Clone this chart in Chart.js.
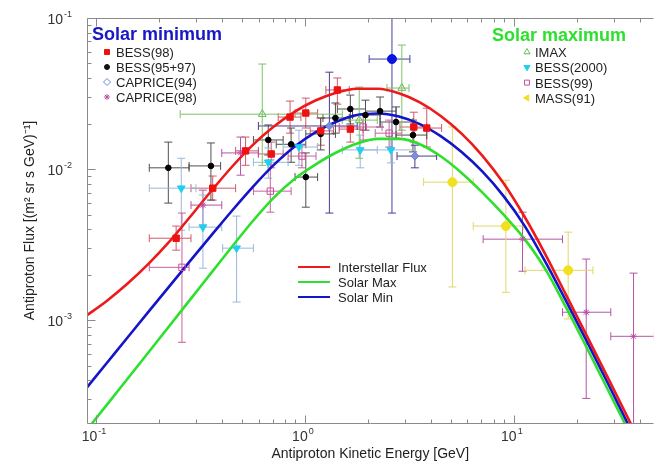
<!DOCTYPE html>
<html>
<head>
<meta charset="utf-8">
<title>Antiproton flux</title>
<script src="https://cdn.jsdelivr.net/npm/chart.js@4.4.1/dist/chart.umd.min.js"></script>
<style>
  html, body { margin: 0; padding: 0; background: #fff; }
  #wrap { width: 659px; height: 469px; position: relative; }
</style>
</head>
<body>
<div id="wrap"><canvas id="fluxChart"></canvas></div>
<script>
// measured points: [E, flux, E low, E high, flux low, flux high]
const bess98 = [
    [0.242, 3.49e-3, 0.180, 0.285, 2.91e-3, 4.20e-3],
    [0.362, 7.48e-3, 0.285, 0.466, 6.24e-3, 9.0e-3],
    [0.520, 1.32e-2, 0.466, 0.599, 1.06e-2, 1.63e-2],
    [0.690, 1.26e-2, 0.599, 0.787, 1.02e-2, 1.51e-2],
    [0.849, 2.21e-2, 0.745, 0.957, 1.73e-2, 2.82e-2],
    [1.01, 2.35e-2, 0.897, 1.15, 1.87e-2, 2.95e-2],
    [1.19, 1.79e-2, 1.06, 1.37, 1.44e-2, 2.18e-2],
    [1.43, 3.34e-2, 1.26, 1.63, 2.69e-2, 4.01e-2],
    [1.65, 1.84e-2, 1.46, 1.90, 1.51e-2, 2.21e-2],
    [3.32, 1.90e-2, 2.85, 3.83, 1.51e-2, 2.38e-2],
    [3.83, 1.87e-2, 3.36, 4.51, 1.40e-2, 2.53e-2]
];
const bess9597 = [
    [0.222, 1.02e-2, 0.180, 0.279, 5.96e-3, 1.51e-2],
    [0.355, 1.05e-2, 0.279, 0.395, 6.24e-3, 1.49e-2],
    [0.668, 1.56e-2, 0.567, 0.787, 1.24e-2, 1.96e-2],
    [0.859, 1.46e-2, 0.729, 1.01, 1.11e-2, 1.87e-2],
    [1.01, 8.86e-3, 0.897, 1.15, 5.60e-3, 1.28e-2],
    [1.19, 1.71e-2, 1.01, 1.40, 1.34e-2, 2.18e-2],
    [1.40, 2.18e-2, 1.22, 1.63, 1.73e-2, 2.74e-2],
    [1.65, 2.50e-2, 1.43, 1.95, 1.99e-2, 3.09e-2],
    [1.95, 2.28e-2, 1.69, 2.29, 1.81e-2, 2.86e-2],
    [2.29, 2.42e-2, 1.95, 2.73, 1.90e-2, 3.00e-2],
    [2.73, 2.05e-2, 2.29, 3.29, 1.60e-2, 2.58e-2],
    [3.29, 1.68e-2, 2.73, 3.83, 1.30e-2, 2.11e-2]
];
const caprice94 = [
    [1.31, 1.93e-2, 0.599, 1.78, 5.12e-3, 4.38e-2],
    [3.36, 1.22e-2, 2.76, 4.27, 1.02e-2, 1.44e-2]
];
const caprice94Dot = [
    [2.61, 5.35e-2, 2.03, 3.18, 5.12e-3, 0.12]
];
const caprice98 = [
    [0.325, 5.78e-3, 0.285, 0.400, 4.26e-3, 7.26e-3],
    [0.492, 1.28e-2, 0.400, 0.599, 9.12e-3, 1.63e-2],
    [11.0, 3.44e-3, 7.13, 17.1, 2.11e-3, 5.19e-3],
    [22.2, 1.13e-3, 17.1, 29.1, 3.04e-4, 2.54e-3],
    [37.4, 7.83e-4, 29.1, 47, 1.5e-4, 2.05e-3]
];
const imax = [
    [0.625, 2.31e-2, 0.253, 1.51, 1.06e-2, 4.96e-2],
    [1.82, 2.11e-2, 1.51, 2.22, 1.18e-2, 3.49e-2],
    [2.91, 3.44e-2, 2.47, 3.15, 1.81e-2, 6.62e-2]
];
const bess2000 = [
    [0.256, 7.48e-3, 0.180, 0.301, 3.94e-3, 1.18e-2],
    [0.325, 4.13e-3, 0.279, 0.400, 2.21e-3, 6.73e-3],
    [0.471, 3.00e-3, 0.404, 0.567, 1.32e-3, 4.89e-3],
    [0.668, 1.11e-2, 0.567, 0.831, 8.71e-3, 1.38e-2],
    [0.937, 1.40e-2, 0.787, 1.15, 1.06e-2, 1.81e-2],
    [1.84, 1.34e-2, 1.51, 2.22, 1.02e-2, 1.68e-2],
    [2.58, 1.34e-2, 1.82, 3.36, 1.10e-2, 1.60e-2]
];
const bess99 = [
    [0.258, 2.24e-3, 0.180, 0.279, 7.15e-4, 5.12e-3],
    [0.683, 7.15e-3, 0.567, 0.859, 5.19e-3, 1.15e-2],
    [0.968, 1.22e-2, 0.831, 1.13, 1.02e-2, 1.44e-2],
    [1.90, 1.90e-2, 1.46, 2.34, 1.56e-2, 2.28e-2],
    [2.53, 1.73e-2, 2.17, 2.91, 1.40e-2, 2.11e-2]
];
const mass91 = [
    [5.08, 8.20e-3, 3.70, 6.39, 1.66e-3, 1.90e-2],
    [9.16, 4.20e-3, 6.39, 11.1, 1.53e-3, 8.45e-3],
    [18.2, 2.14e-3, 11.3, 23.9, 1.02e-3, 3.83e-3]
];

// model curves, flux at each curveE energy (GeV)
const curveE = [
    0.0891, 0.1122, 0.1413, 0.1778, 0.2239, 0.2818, 0.3548, 0.4467, 0.5623, 0.7079,
    0.8913, 1.122, 1.413, 1.778, 2.239, 2.818, 3.548, 4.467, 5.623, 7.079,
    8.913, 11.22, 14.13, 17.78, 22.39, 28.18, 35.48, 44.67
];
const interstellar = [
    1.062e-3, 1.337e-3, 1.742e-3, 2.350e-3, 3.296e-3, 4.819e-3, 7.112e-3, 1.033e-2, 1.442e-2, 1.905e-2,
    2.393e-2, 2.844e-2, 3.206e-2, 3.404e-2, 3.404e-2, 3.177e-2, 2.767e-2, 2.249e-2, 1.718e-2, 1.225e-2,
    8.091e-3, 4.875e-3, 2.742e-3, 1.472e-3, 7.852e-4, 4.169e-4, 2.203e-4, 1.156e-4
];
const solarMin = [
    3.499e-4, 5.176e-4, 7.656e-4, 1.132e-3, 1.671e-3, 2.460e-3, 3.614e-3, 5.284e-3, 7.603e-3, 1.062e-2,
    1.406e-2, 1.750e-2, 2.056e-2, 2.280e-2, 2.333e-2, 2.228e-2, 1.986e-2, 1.652e-2, 1.297e-2, 9.616e-3,
    6.653e-3, 4.246e-3, 2.443e-3, 1.343e-3, 7.211e-4, 3.828e-4, 2.009e-4, 1.042e-4
];
const solarMax = [
    1.837e-4, 2.735e-4, 4.083e-4, 6.095e-4, 9.120e-4, 1.365e-3, 2.042e-3, 3.055e-3, 4.519e-3, 6.457e-3,
    8.610e-3, 1.072e-2, 1.288e-2, 1.479e-2, 1.585e-2, 1.585e-2, 1.462e-2, 1.216e-2, 9.441e-3, 6.998e-3,
    5.012e-3, 3.467e-3, 2.188e-3, 1.216e-3, 6.531e-4, 3.467e-4, 1.841e-4, 9.661e-5
];

const xRange = [0.0906, 46.6];
const yRange = [2.09e-4, 0.1];
const xDecades = [-2, -1, 0, 1];
const yDecades = [-4, -3, -2, -1];

const FONT = '"Liberation Sans", Arial, sans-serif';

function points(rows) {
    return rows.map(r => ({ x: r[0], y: r[1], xMin: r[2], xMax: r[3], yMin: r[4], yMax: r[5] }));
}
function curve(flux) {
    return flux.map((f, i) => ({ x: curveE[i], y: f }));
}
function markers(data, style, color, fill, radius, errorColor, rotation) {
    return {
        data: points(data),
        pointStyle: style,
        pointRadius: radius,
        pointBorderColor: color,
        pointBackgroundColor: fill,
        pointBorderWidth: 1,
        pointRotation: rotation || 0,
        errorColor: errorColor
    };
}
function model(flux, color) {
    return {
        data: curve(flux),
        showLine: true,
        borderColor: color,
        borderWidth: 2.6,
        pointRadius: 0,
        cubicInterpolationMode: 'monotone',
        fill: false
    };
}

// error bars under the markers
const errorBars = {
    id: 'errorBars',
    beforeDatasetsDraw(chart) {
        const { ctx, chartArea: a, scales: { x, y } } = chart;
        ctx.save();
        ctx.beginPath();
        ctx.rect(a.left, a.top, a.right - a.left, a.bottom - a.top);
        ctx.clip();
        ctx.lineWidth = 1;
        chart.data.datasets.forEach(ds => {
            if (!ds.errorColor) return;
            ctx.strokeStyle = ds.errorColor;
            ds.data.forEach(p => {
                const px = x.getPixelForValue(p.x), py = y.getPixelForValue(p.y);
                const x0 = x.getPixelForValue(p.xMin), x1 = x.getPixelForValue(p.xMax);
                const y0 = y.getPixelForValue(p.yMin), y1 = y.getPixelForValue(p.yMax);
                ctx.beginPath();
                ctx.moveTo(x0, py); ctx.lineTo(x1, py);
                ctx.moveTo(px, y0); ctx.lineTo(px, y1);
                ctx.moveTo(x0, py - 4); ctx.lineTo(x0, py + 4);
                ctx.moveTo(x1, py - 4); ctx.lineTo(x1, py + 4);
                ctx.moveTo(px - 4, y0); ctx.lineTo(px + 4, y0);
                ctx.moveTo(px - 4, y1); ctx.lineTo(px + 4, y1);
                ctx.stroke();
            });
        });
        ctx.restore();
    }
};

// frame, inward ticks and 10^n labels
const axisDecor = {
    id: 'axisDecor',
    afterDraw(chart) {
        const { ctx, chartArea: a, scales: { x, y } } = chart;
        ctx.save();
        ctx.strokeStyle = '#8a8a8a';
        ctx.lineWidth = 1;
        const L = Math.round(a.left) + 0.5, T = Math.round(a.top) + 0.5, B = Math.round(a.bottom) + 0.5;
        ctx.beginPath();
        ctx.moveTo(L, B); ctx.lineTo(a.right, B);
        ctx.moveTo(L, T); ctx.lineTo(a.right, T);
        ctx.moveTo(L, T); ctx.lineTo(L, B);
        ctx.stroke();

        ctx.beginPath();
        xDecades.forEach(d => {
            for (let m = 1; m <= 9; m++) {
                const v = m * Math.pow(10, d);
                if (v < xRange[0] || v > xRange[1]) continue;
                const px = Math.round(x.getPixelForValue(v)) + 0.5;
                const len = m === 1 ? 8 : 4;
                ctx.moveTo(px, B); ctx.lineTo(px, B - len);
                ctx.moveTo(px, T); ctx.lineTo(px, T + len);
            }
        });
        yDecades.forEach(d => {
            for (let m = 1; m <= 9; m++) {
                const v = m * Math.pow(10, d);
                if (v < yRange[0] || v > yRange[1]) continue;
                const py = Math.round(y.getPixelForValue(v)) + 0.5;
                const len = m === 1 ? 8 : 4;
                ctx.moveTo(L, py); ctx.lineTo(L + len, py);
            }
        });
        ctx.stroke();

        ctx.fillStyle = '#333';
        ctx.textBaseline = 'alphabetic';
        const big = '14px ' + FONT, small = '9px ' + FONT;
        function label(d, cx, baseline, alignRight) {
            ctx.font = big;
            const w1 = ctx.measureText('10').width;
            ctx.font = small;
            const w2 = ctx.measureText(String(d)).width;
            const left = alignRight ? cx - w1 - w2 - 1 : cx - (w1 + w2 + 1) / 2;
            ctx.textAlign = 'left';
            ctx.font = big;
            ctx.fillText('10', left, baseline);
            ctx.font = small;
            ctx.fillText(String(d), left + w1 + 1, baseline - 7);
        }
        xDecades.forEach(d => {
            const v = Math.pow(10, d);
            if (v < xRange[0] || v > xRange[1]) return;
            label(d, x.getPixelForValue(v) - 2, a.bottom + 18, false);
        });
        yDecades.forEach(d => {
            const v = Math.pow(10, d);
            if (v < yRange[0] || v > yRange[1] * 1.0001) return;
            label(d, a.left - 15, y.getPixelForValue(v) + 6, true);
        });
        ctx.restore();
    }
};

// legend blocks inside the plot
const legendMin = [
    ['BESS(98)', 'rect', '#ee1111', '#ee1111', 0, 3.5],
    ['BESS(95+97)', 'circle', '#111111', '#111111', 0, 2.5],
    ['CAPRICE(94)', 'rectRot', '#6a8ad8', '#ffffff', 0, 3.5],
    ['CAPRICE(98)', 'star', '#c44aa8', '#c44aa8', 0, 3]
];
const legendMax = [
    ['IMAX', 'triangle', '#66bb55', '#ffffff', 0, 3.5],
    ['BESS(2000)', 'triangle', '#1ed0f0', '#1ed0f0', 180, 3.5],
    ['BESS(99)', 'rect', '#c8509a', '#ffffff', 0, 3.5],
    ['MASS(91)', 'triangle', '#f0e020', '#f0e020', 270, 3.5]
];
const legendCurves = [
    ['Interstellar Flux', '#ee1a1a'],
    ['Solar Max', '#2ee02e'],
    ['Solar Min', '#1414c8']
];

const legendPlugin = {
    id: 'legendPlugin',
    afterDraw(chart) {
        const ctx = chart.ctx;
        const drawPoint = Chart.helpers && Chart.helpers.drawPoint;
        ctx.save();
        ctx.textAlign = 'left';
        ctx.textBaseline = 'alphabetic';
        ctx.font = 'bold 18px ' + FONT;
        ctx.fillStyle = '#1818c8';
        ctx.fillText('Solar minimum', 92, 40);
        ctx.fillStyle = '#2ee02e';
        ctx.fillText('Solar maximum', 492, 41);

        function entries(list, mx, tx, y0, step) {
            list.forEach((e, i) => {
                const cy = y0 + i * step;
                ctx.strokeStyle = e[2];
                ctx.fillStyle = e[3];
                ctx.lineWidth = 1;
                if (drawPoint) {
                    drawPoint(ctx, { pointStyle: e[1], radius: e[5], rotation: e[4], borderWidth: 1 }, mx, cy);
                }
                ctx.font = '13px ' + FONT;
                ctx.fillStyle = '#222';
                ctx.fillText(e[0], tx, cy + 5);
            });
        }
        entries(legendMin, 107, 116, 52, 15);
        entries(legendMax, 527, 535, 52, 15.3);

        legendCurves.forEach((e, i) => {
            const cy = 267 + i * 15;
            ctx.strokeStyle = e[1];
            ctx.lineWidth = 2;
            ctx.beginPath();
            ctx.moveTo(298, cy); ctx.lineTo(330, cy);
            ctx.stroke();
            ctx.font = '13px ' + FONT;
            ctx.fillStyle = '#222';
            ctx.fillText(e[0], 338, cy + 5);
        });
        ctx.restore();
    }
};

window.addEventListener('load', () => {
    const ctx = document.getElementById('fluxChart').getContext('2d');
    new Chart(ctx, {
        type: 'scatter',
        data: {
            datasets: [
                markers(caprice94Dot, 'circle', '#0a14e0', '#0a14e0', 4.5, '#40409a'),
                markers(bess98, 'rect', '#ee1111', '#ee1111', 4.5, '#d05a6a'),
                markers(bess9597, 'circle', '#000000', '#000000', 2.8, '#505050'),
                markers(caprice94, 'rectRot', '#6a7ad0', '#8090d8', 4, '#4a3c8c'),
                markers(caprice98, 'star', '#c44aa8', '#c44aa8', 3.5, '#b456a6'),
                markers(bess2000, 'triangle', '#1ed0f0', '#1ed0f0', 4.5, '#9ab8d8', 180),
                markers(bess99, 'rect', '#c8509a', 'rgba(255,255,255,0)', 4.5, '#c8609e'),
                markers(imax, 'triangle', '#66bb55', 'rgba(255,255,255,0)', 4.5, '#7cc268'),
                markers(mass91, 'circle', '#f0e020', '#f0e020', 4.5, '#e2d66a'),
                model(interstellar, '#ee1a1a'),
                model(solarMin, '#1414c8'),
                model(solarMax, '#2ee02e')
            ]
        },
        options: {
            responsive: true,
            maintainAspectRatio: false,
            animation: false,
            layout: { padding: { top: 18, right: 0, left: 0, bottom: 0 } },
            plugins: {
                legend: { display: false },
                tooltip: { enabled: false }
            },
            scales: {
                x: {
                    type: 'logarithmic',
                    min: xRange[0],
                    max: xRange[1],
                    afterFit: s => { s.height = 46; },
                    grid: { display: false },
                    border: { display: false },
                    ticks: { display: false },
                    title: {
                        display: true,
                        text: 'Antiproton Kinetic Energy [GeV]',
                        color: '#222',
                        font: { family: FONT, size: 14 },
                        padding: { top: 0, bottom: 6 }
                    }
                },
                y: {
                    type: 'logarithmic',
                    min: yRange[0],
                    max: yRange[1],
                    afterFit: s => { s.width = 87; },
                    grid: { display: false },
                    border: { display: false },
                    ticks: { display: false },
                    title: {
                        display: true,
                        text: 'Antiproton Flux [(m² sr s GeV)⁻¹]',
                        color: '#222',
                        font: { family: FONT, size: 14 },
                        padding: { top: 22, bottom: 0 }
                    }
                }
            }
        },
        plugins: [errorBars, axisDecor, legendPlugin]
    });
});
</script>
</body>
</html>
